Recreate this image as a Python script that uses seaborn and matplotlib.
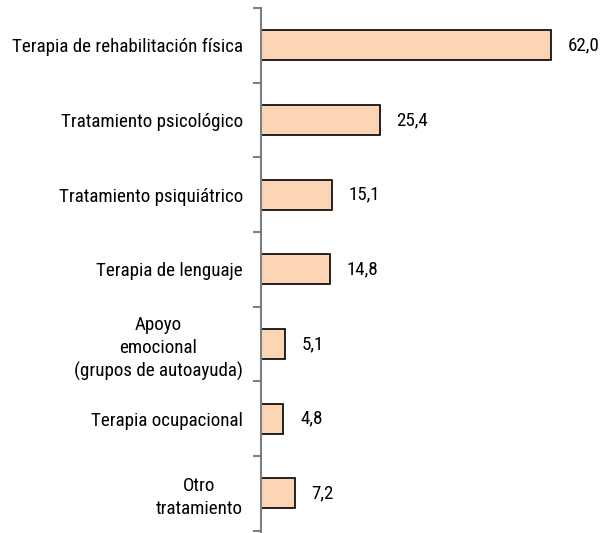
import numpy as np
import pandas as pd
import matplotlib
matplotlib.use("Agg")
import matplotlib.pyplot as plt
from matplotlib import font_manager
import seaborn as sns

# Data
categorias = [
    "Terapia de rehabilitación física",
    "Tratamiento psicológico",
    "Tratamiento psiquiátrico",
    "Terapia de lenguaje",
    "Apoyo\nemocional\n(grupos de autoayuda)",
    "Terapia ocupacional",
    "Otro\ntratamiento",
]
porcentajes = [62.0, 25.4, 15.1, 14.8, 5.1, 4.8, 7.2]

df = pd.DataFrame({"categoria": categorias, "valor": porcentajes})

sns.set_style("white")
# narrow sans (Arial Narrow look) if available
disponibles = {f.name for f in font_manager.fontManager.ttflist}
if "Roboto Condensed" in disponibles:
    fuente, tam = "Roboto Condensed", 13.7
else:
    fuente, tam = "Liberation Sans", 12.5
plt.rcParams["font.family"] = [fuente, "DejaVu Sans"]

fig = plt.figure(figsize=(6.10, 5.33), dpi=100)
ax = fig.add_axes([261 / 610, 0.0, 1 - 261 / 610, 1 - 8 / 533])

sns.barplot(data=df, y="categoria", x="valor", orient="h", color="#FCD5B4",
            saturation=1, edgecolor="black", linewidth=1.2, width=0.4, ax=ax)

ax.set_xlim(0, 74.6)
ax.set_ylim(len(categorias) - 0.5 + 0.03, -0.5)
ax.set_xlabel("")
ax.set_ylabel("")
ax.set_xticks([])

# value labels with decimal comma
ax.bar_label(ax.containers[0], labels=[f"{v:.1f}".replace(".", ",") for v in porcentajes],
             padding=12, fontsize=tam, color="black")

# category boundaries as minor ticks, labels without tick marks
ax.set_yticks(np.arange(len(categorias)))
ax.set_yticks(np.arange(len(categorias) + 1) - 0.5, minor=True)
ax.tick_params(axis="y", which="major", length=0, pad=13, labelsize=tam, labelcolor="black")
ax.tick_params(axis="y", which="minor", length=6, width=1.5, color="#808080", left=True)
for lbl in ax.get_yticklabels():
    lbl.set_multialignment("center")
    lbl.set_linespacing(1.35)

for s in ["top", "right", "bottom"]:
    ax.spines[s].set_visible(False)
ax.spines["left"].set_color("#808080")
ax.spines["left"].set_linewidth(1.5)

fig.savefig("out.png", dpi=100)
